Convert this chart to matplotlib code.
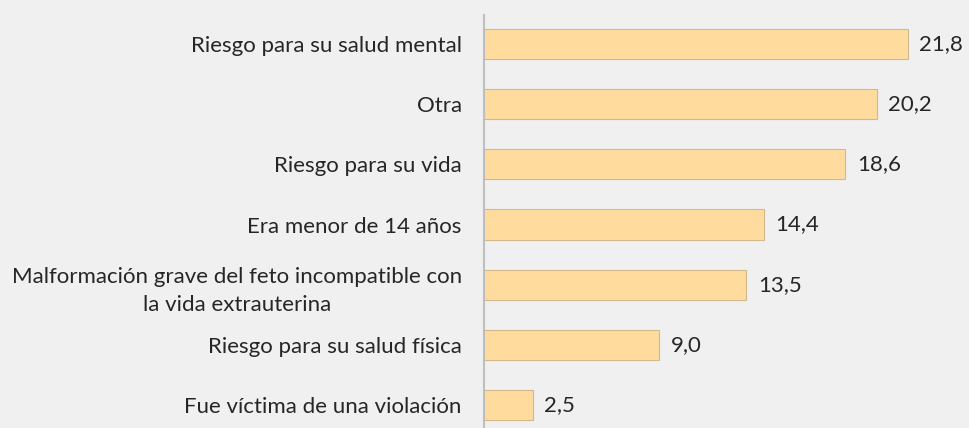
import matplotlib.pyplot as plt

# Motivos declarados (%)
categories = [
    'Riesgo para su salud mental',
    'Otra',
    'Riesgo para su vida',
    'Era menor de 14 años',
    'Malformación grave del feto incompatible con\nla vida extrauterina',
    'Riesgo para su salud física',
    'Fue víctima de una violación',
]
values = [21.8, 20.2, 18.6, 14.4, 13.5, 9.0, 2.5]
value_labels = ['21,8', '20,2', '18,6', '14,4', '13,5', '9,0', '2,5']

plt.rcParams['font.family'] = ['Lato', 'DejaVu Sans']

fig = plt.figure(figsize=(9.69, 4.28), dpi=100)
fig.patch.set_facecolor('#F0F0F0')
ax = fig.add_axes([484 / 969, 0, 485 / 969, 413 / 428])
ax.set_facecolor('none')

pos = list(range(len(categories)))
ax.barh(pos, values, height=0.5, color='#FFDC9E', edgecolor='#D2B98C', linewidth=0.8)

for y, v, lab in zip(pos, values, value_labels):
    ax.text(v + 0.6, y, lab, va='center', ha='left', fontsize=16, color='#262626')

ax.set_xlim(0, 24.96)
ax.set_ylim(6.382, -0.482)
ax.set_yticks(pos)
ax.set_yticklabels(categories, fontsize=16, color='#262626', multialignment='center',
                   linespacing=1.5)
ax.tick_params(axis='y', length=0, pad=16)
ax.set_xticks([])

for s in ['top', 'right', 'bottom']:
    ax.spines[s].set_visible(False)
ax.spines['left'].set_color('#BFBFBF')
ax.spines['left'].set_linewidth(1.5)

fig.savefig('out.png', dpi=100, facecolor=fig.get_facecolor())
